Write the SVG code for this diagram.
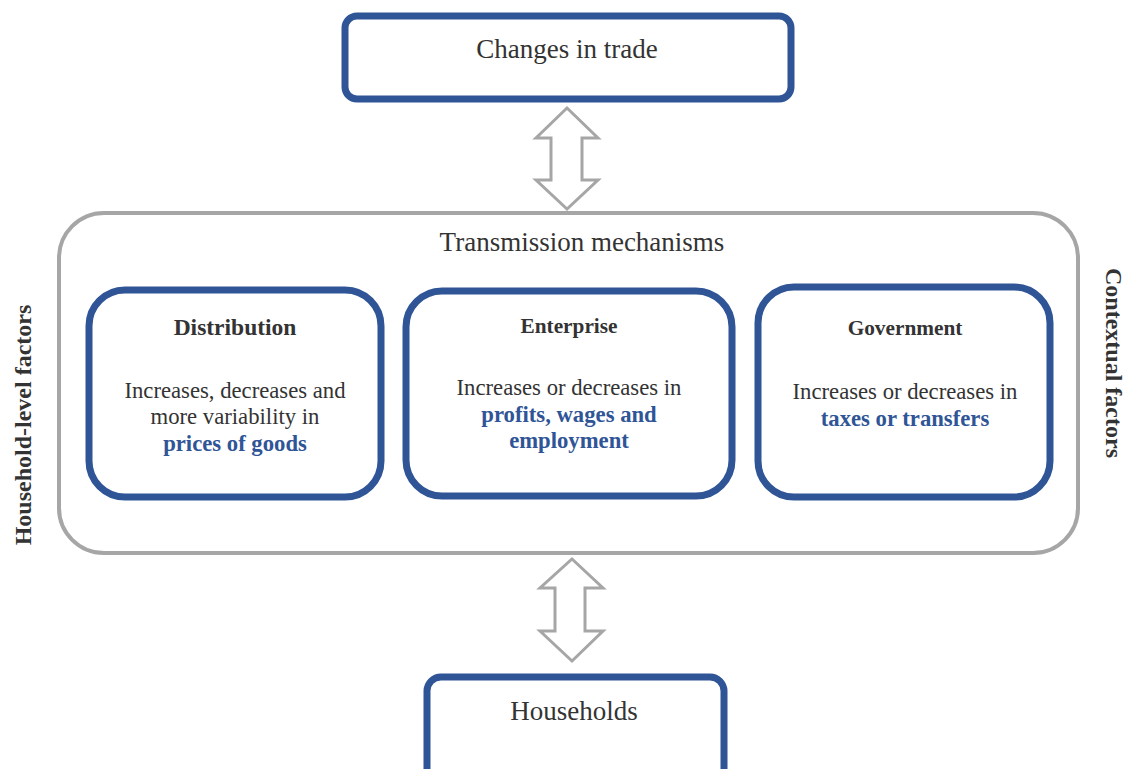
<svg xmlns="http://www.w3.org/2000/svg" width="1126" height="769" viewBox="0 0 1126 769">
<style>
.box{fill:#fff;stroke:#2f5597;stroke-width:7}
.outer{fill:#fff;stroke:#a6a6a6;stroke-width:4}
.arrow{fill:#fff;stroke:#a6a6a6;stroke-width:3;stroke-linejoin:miter}
text{font-family:"Liberation Serif","Times New Roman",serif;fill:#333;text-anchor:middle}
.t{font-size:27px}
.b{font-size:22.7px}
.h{font-weight:bold;font-size:23.5px}
.hs{font-weight:bold;font-size:21.3px}
.blue{fill:#2f5597;font-weight:bold}
.side{font-weight:bold;font-size:24px}
</style>
<rect width="1126" height="769" fill="#fff"/>
<g id="transmission">
<rect class="outer" x="59" y="213" width="1019" height="340" rx="45"/>
<text class="t" x="582" y="251">Transmission mechanisms</text>
</g>
<g id="changes-in-trade">
<rect class="box" x="345" y="16" width="446" height="83" rx="12"/>
<text class="t" x="567" y="58">Changes in trade</text>
</g>
<g id="distribution">
<rect class="box" x="89" y="290" width="292" height="207" rx="36"/>
<text class="h" x="235" y="335">Distribution</text>
<text class="b" x="235" y="398">Increases, decreases and</text>
<text class="b" x="235" y="424">more variability in</text>
<text class="b blue" x="235" y="451">prices of goods</text>
</g>
<g id="enterprise">
<rect class="box" x="406" y="291" width="326" height="205" rx="36"/>
<text class="hs" x="569" y="333">Enterprise</text>
<text class="b" x="569" y="395">Increases or decreases in</text>
<text class="b blue" x="569" y="422">profits, wages and</text>
<text class="b blue" x="569" y="448">employment</text>
</g>
<g id="government">
<rect class="box" x="758" y="287" width="292" height="210" rx="36"/>
<text class="hs" x="905" y="335">Government</text>
<text class="b" x="905" y="399">Increases or decreases in</text>
<text class="b blue" x="905" y="426">taxes or transfers</text>
</g>
<g id="households">
<rect class="box" x="427" y="677" width="297" height="110" rx="14"/>
<text class="t" x="574" y="720">Households</text>
</g>
<g id="household-level-factors">
<text class="side" transform="translate(31,425) rotate(-90)">Household-level factors</text>
</g>
<g id="contextual-factors">
<text class="side" transform="translate(1106,363) rotate(90)">Contextual factors</text>
</g>
<g id="connectors">
<path class="arrow" d="M567,108 L598,138 L582,138 L582,180 L598,180 L567,209 L536,180 L551,180 L551,138 L536,138 Z"/>
<path class="arrow" d="M572,559 L603,588 L585,588 L585,631 L603,631 L572,661 L540,631 L555,631 L555,588 L540,588 Z"/>
</g>
</svg>
